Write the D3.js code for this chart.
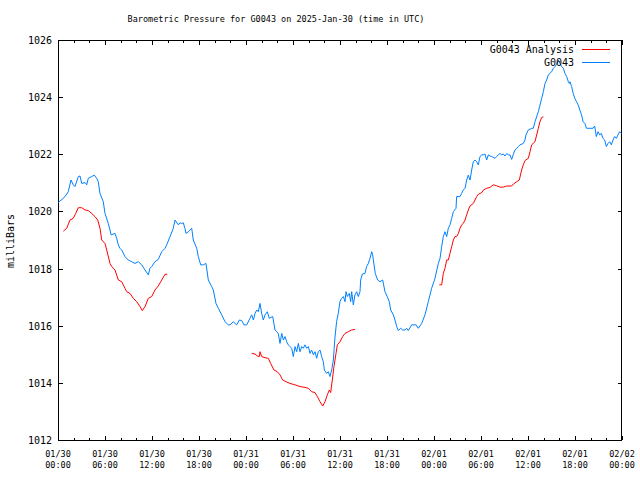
<!DOCTYPE html>
<html><head><meta charset="utf-8">
<script src="https://cdn.jsdelivr.net/npm/d3@7"></script>
<style>body{margin:0;background:#fff}svg{display:block}text{font-family:"DejaVu Sans Mono",monospace;font-size:8.5px;fill:#000}</style>
</head><body><svg id="c" width="640" height="480"></svg>
<script>
// hours since 2025-01-30 00:00 UTC
const stationName = "G0043";
const seriesNames = ["G0043 Analysis", "G0043"];
const yTicks = [1012,1014,1016,1018,1020,1022,1024,1026];

const obsHours = [0,0.51,0.89,1.31,1.66,1.95,2.17,2.59,2.81,3.03,3.45,3.66,3.87,4.3,4.63,4.94,5.14,5.36,5.78,6.0,6.42,6.64,6.77,7.28,7.49,7.7,7.91,8.13,8.55,8.97,9.41,9.83,10.25,10.68,11.11,11.53,11.74,11.96,12.38,12.8,13.24,13.66,13.88,14.3,14.72,14.94,15.36,15.57,15.79,16.0,16.21,16.34,16.63,17.07,17.27,17.71,17.91,18.22,18.55,18.89,19.19,19.62,19.83,20.17,20.47,20.9,21.32,21.74,21.96,22.38,22.81,23.15,23.45,23.74,24.09,24.51,24.73,24.94,25.15,25.37,25.57,25.79,26.0,26.21,26.43,26.72,26.97,27.41,27.7,27.92,28.12,28.34,28.56,28.77,28.98,29.2,29.4,29.62,29.83,30.04,30.26,30.47,30.68,30.89,31.11,31.32,31.53,31.75,31.96,32.17,32.38,32.6,32.81,33.02,33.23,33.45,33.66,33.87,34.0,34.3,34.51,34.72,34.94,35.15,35.36,35.57,35.78,36.0,36.21,36.43,36.64,36.77,36.93,37.19,37.36,37.49,37.7,37.91,38.13,38.34,38.55,38.64,38.85,39.19,39.4,39.62,39.83,40.05,40.17,40.5,40.81,41.11,41.45,41.74,42.03,42.29,42.47,42.81,43.02,43.24,43.44,43.75,44.0,44.3,44.51,44.72,45.15,45.7,46.0,46.43,46.85,47.27,47.7,48.13,48.55,48.77,48.98,49.19,49.4,49.62,49.83,50.04,50.26,50.47,50.81,50.89,51.32,51.53,51.74,51.96,52.17,52.38,52.6,52.81,53.02,53.23,53.45,53.66,53.87,54.09,54.3,54.51,54.72,54.94,55.15,55.37,55.57,55.79,56.0,56.21,56.43,56.64,56.85,57.06,57.28,57.49,57.7,57.91,58.13,58.34,58.55,58.77,58.98,59.4,59.62,59.74,60.04,60.47,60.68,60.89,61.32,61.75,61.96,62.17,62.38,62.6,63.02,63.23,63.45,63.66,63.87,64.09,64.3,64.51,64.72,64.94,65.15,65.28,65.36,65.57,65.77,65.98,66.19,66.4,66.62,66.83,67.04,67.26,67.47,67.89,68.3,68.51,68.72,68.94,69.15,69.36,69.57,69.79,70.0,70.21,70.43,70.64,70.85,71.06,71.28,71.49,71.7,71.92];
const obsPressure = [1020.31,1020.42,1020.52,1020.69,1021.10,1020.93,1020.87,1021.22,1021.24,1020.98,1021.01,1020.93,1021.16,1021.22,1021.27,1021.16,1021.04,1020.63,1020.34,1019.93,1019.58,1019.35,1019.18,1019.23,1019.06,1018.83,1018.71,1018.65,1018.42,1018.30,1018.24,1018.18,1018.24,1018.13,1017.95,1017.78,1018.01,1018.07,1018.24,1018.32,1018.59,1018.71,1018.83,1019.12,1019.41,1019.70,1019.53,1019.60,1019.58,1019.60,1019.40,1019.23,1019.29,1019.41,1019.00,1018.71,1018.42,1018.13,1018.13,1018.18,1017.60,1017.37,1017.25,1016.78,1016.61,1016.38,1016.14,1016.03,1016.03,1016.14,1016.03,1016.20,1016.18,1016.03,1016.03,1016.26,1016.38,1016.20,1016.43,1016.55,1016.49,1016.78,1016.43,1016.20,1016.38,1016.49,1016.26,1016.32,1015.85,1015.79,1015.73,1015.38,1015.73,1015.50,1015.62,1015.44,1015.33,1015.27,1015.21,1014.92,1015.27,1015.09,1015.38,1015.09,1015.27,1015.21,1015.33,1015.21,1015.27,1015.03,1015.15,1014.98,1015.09,1014.86,1015.09,1015.15,1014.92,1014.74,1014.45,1014.33,1014.39,1014.22,1014.45,1014.80,1015.60,1016.15,1016.43,1016.85,1016.96,1017.02,1016.84,1017.19,1017.02,1017.13,1016.84,1017.19,1016.73,1017.08,1017.19,1017.02,1017.19,1017.60,1017.81,1017.83,1018.07,1018.18,1018.36,1018.59,1018.48,1017.83,1017.60,1017.54,1017.60,1017.19,1017.02,1016.84,1016.55,1016.38,1016.20,1015.97,1015.83,1015.91,1015.85,1015.85,1015.91,1015.83,1016.03,1016.03,1015.91,1016.08,1016.38,1016.84,1017.31,1017.66,1018.18,1018.36,1018.77,1019.12,1019.29,1019.12,1019.41,1019.53,1019.76,1019.99,1020.11,1020.52,1020.52,1020.63,1020.75,1020.81,1021.10,1021.27,1021.10,1021.45,1021.74,1021.80,1021.74,1021.63,1021.92,1021.98,1021.98,1022.01,1021.80,1021.98,1021.94,1021.92,1021.89,1021.86,1021.92,1021.98,1022.03,1021.98,1022.01,1021.94,1022.03,1021.98,1021.98,1021.82,1022.00,1022.15,1022.21,1022.27,1022.33,1022.38,1022.50,1022.68,1022.85,1022.91,1022.91,1023.14,1023.49,1023.96,1024.19,1024.48,1024.60,1024.78,1024.89,1025.01,1025.07,1025.16,1025.30,1025.18,1025.07,1025.01,1024.83,1024.72,1024.54,1024.48,1024.54,1024.37,1024.13,1023.96,1023.84,1023.73,1023.55,1023.38,1023.14,1023.08,1022.91,1022.91,1022.91,1022.99,1022.62,1022.79,1022.68,1022.73,1022.56,1022.50,1022.27,1022.38,1022.44,1022.33,1022.50,1022.62,1022.56,1022.68,1022.79,1022.73];

// analysis series; null marks a gap
const anaHours = [0.68,1.11,1.53,1.95,2.26,2.59,3.03,3.45,3.87,4.3,4.72,5.07,5.36,5.58,6.0,6.22,6.64,6.86,7.28,7.7,8.13,8.55,8.77,9.19,9.61,10.05,10.47,10.76,11.11,11.53,11.96,12.38,12.8,13.24,13.66,13.95,
  19.0,
  24.73,25.15,25.45,25.7,25.79,26.0,26.43,26.85,27.15,27.57,27.99,28.34,28.68,29.11,29.62,30.26,30.89,31.53,31.96,32.38,32.81,33.11,33.45,33.79,34.09,34.38,34.64,34.81,35.02,35.23,35.49,35.66,36.0,36.34,36.64,37.06,37.49,37.91,
  43.0,
  48.68,48.98,49.19,49.4,49.62,49.83,50.04,50.26,50.47,50.68,50.89,51.11,51.32,51.53,51.74,51.96,52.17,52.38,52.6,53.02,53.23,53.45,53.66,54.09,54.3,54.72,55.15,55.57,56.0,56.43,56.85,57.28,57.91,58.13,58.55,58.89,59.19,59.4,59.62,60.04,60.26,60.47,60.89,61.11,61.32,61.53,61.75,61.96];
const anaPressure = [1019.31,1019.41,1019.70,1019.76,1019.93,1020.13,1020.13,1020.05,1020.03,1019.93,1019.82,1019.70,1019.41,1019.00,1018.88,1018.65,1018.18,1018.07,1017.95,1017.60,1017.54,1017.31,1017.19,1017.13,1016.96,1016.84,1016.67,1016.53,1016.67,1016.96,1017.02,1017.25,1017.39,1017.60,1017.80,1017.80,
  null,
  1015.03,1015.01,1014.94,1014.92,1015.09,1014.92,1014.88,1014.86,1014.68,1014.45,1014.39,1014.28,1014.10,1014.04,1013.98,1013.93,1013.87,1013.84,1013.81,1013.69,1013.66,1013.52,1013.34,1013.19,1013.34,1013.58,1013.75,1013.66,1014.10,1014.57,1015.03,1015.33,1015.44,1015.62,1015.73,1015.79,1015.85,1015.87,
  null,
  1017.43,1017.43,1017.83,1018.01,1018.30,1018.30,1018.53,1018.77,1019.00,1019.12,1019.12,1019.23,1019.41,1019.53,1019.58,1019.70,1019.88,1020.05,1020.19,1020.28,1020.40,1020.52,1020.60,1020.66,1020.75,1020.81,1020.84,1020.93,1020.90,1020.85,1020.85,1020.89,1020.89,1020.96,1021.04,1021.10,1021.45,1021.63,1021.78,1021.86,1022.09,1022.33,1022.44,1022.68,1022.91,1023.14,1023.29,1023.31];

const t0 = Date.UTC(2025,0,30,0,0);
const toDate = h => new Date(t0 + h*3600e3);

const svg = d3.select("#c");
const L=58,R=622,T=40,B=440;
const x = d3.scaleUtc().domain([toDate(0), toDate(72)]).range([L,R]);
const y = d3.scaleLinear().domain([1012,1026]).range([B,T]);

const obs = obsHours.map((h,i)=>({t:toDate(h),v:obsPressure[i]}));
const ana = anaHours.map((h,i)=>({t:toDate(h),v:anaPressure[i]}));

// title
svg.append("text").attr("x",276).attr("y",22).attr("text-anchor","middle")
  .text("Barometric Pressure for "+stationName+" on 2025-Jan-30 (time in UTC)");
svg.append("text").attr("transform","translate(14,241) rotate(-90)").attr("text-anchor","middle")
  .style("font-size","10px").text("milliBars");

const majorT = d3.utcHour.every(6).range(toDate(0), toDate(72.01));
const minorT = d3.utcHour.every(2).range(toDate(0), toDate(72.01));
const fmtD = d3.utcFormat("%m/%d"), fmtH = d3.utcFormat("%H:%M");

const g = svg.append("g");
const axB = d3.axisBottom(x).tickValues(minorT).tickSizeInner(-2.5).tickSizeOuter(0).tickFormat("");
const axBM = d3.axisBottom(x).tickValues(majorT).tickSizeInner(-4.5).tickSizeOuter(0).tickFormat("");
const axT = d3.axisTop(x).tickValues(minorT).tickSizeInner(-2.5).tickSizeOuter(0).tickFormat("");
const axTM = d3.axisTop(x).tickValues(majorT).tickSizeInner(-4.5).tickSizeOuter(0).tickFormat("");
const axL = d3.axisLeft(y).tickValues(yTicks).tickSizeInner(-4.5).tickSizeOuter(0).tickFormat(d3.format("d"));
const axR = d3.axisRight(y).tickValues(yTicks).tickSizeInner(-4.5).tickSizeOuter(0).tickFormat("");
[[axB,B],[axBM,B],[axT,T],[axTM,T]].forEach(([a,yy])=>{
  g.append("g").attr("transform",`translate(0,${yy})`).call(a).call(s=>s.select(".domain").remove());
});
g.append("g").attr("transform",`translate(${L},0)`).call(axL).call(s=>{s.select(".domain").remove();
  s.selectAll("text").attr("x",-6).attr("dy","0.35em").attr("fill","#000")
   .style("font-family","DejaVu Sans Mono").style("font-size","10px");});
g.append("g").attr("transform",`translate(${R},0)`).call(axR).call(s=>s.select(".domain").remove());
g.selectAll(".tick line").attr("stroke","#000").attr("shape-rendering","crispEdges");

// x tick labels (two lines)
const xl = svg.append("g");
majorT.forEach(d=>{
  const t = xl.append("text").attr("x",x(d)).attr("text-anchor","middle");
  t.append("tspan").attr("x",x(d)).attr("y",457).text(fmtD(d));
  t.append("tspan").attr("x",x(d)).attr("y",468).text(fmtH(d));
});

// frame
svg.append("rect").attr("x",L+0.5).attr("y",T+0.5).attr("width",R-L-1).attr("height",B-T).attr("fill","none").attr("stroke","#000");

const line = d3.line().defined(d=>d.v!==null).x(d=>x(d.t)).y(d=>y(d.v));
const ANA_C="#ff0000", OBS_C="#0080ff";
svg.append("path").datum(ana).attr("d",line).attr("fill","none").attr("stroke",ANA_C).attr("stroke-width",1);
svg.append("path").datum(obs).attr("d",line).attr("fill","none").attr("stroke",OBS_C).attr("stroke-width",1);

// legend
const lg = svg.append("g");
[[seriesNames[0],ANA_C,49.5],[seriesNames[1],OBS_C,62.5]].forEach(([n,c,yy])=>{
  lg.append("text").attr("x",574).attr("y",yy).attr("dy","0.35em").attr("text-anchor","end")
    .style("font-size","10px").text(n);
  lg.append("line").attr("x1",582).attr("x2",610).attr("y1",yy).attr("y2",yy).attr("stroke",c).attr("stroke-width",1);
});
</script></body></html>
